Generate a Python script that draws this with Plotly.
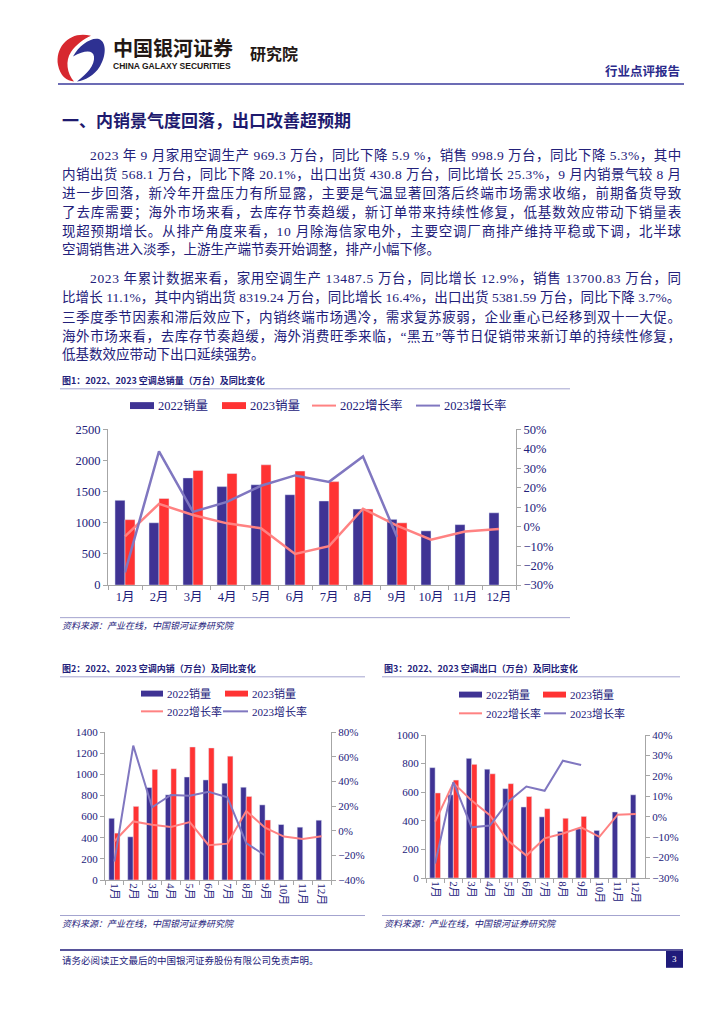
import plotly.graph_objects as go

W, H = 724, 1024
def X(px): return px / W
def Y(py): return 1 - py / H

# ---------------- data ----------------
months = ["1月", "2月", "3月", "4月", "5月", "6月", "7月", "8月", "9月", "10月", "11月", "12月"]

# 图1 total sales (万台) and YoY (%)
total_2022 = [1360, 1000, 1720, 1580, 1610, 1450, 1350, 1220, 1055, 870, 970, 1160]
total_2023 = [1050, 1390, 1840, 1790, 1930, 1830, 1660, 1220, 999]
total_g2022 = [-5.0, 11.7, 6.0, 1.7, -0.8, -14.0, -10.0, 9.2, 0.5, -6.7, -2.5, -1.2]
total_g2023 = [-23.5, 38.7, 7.6, 12.7, 21.0, 26.3, 23.0, 36.0, -5.3]

# 图2 domestic sales
dom_2022 = [584, 409, 875, 806, 975, 947, 916, 878, 711, 525, 500, 566]
dom_2023 = [444, 697, 1047, 1053, 1259, 1250, 1172, 791, 568]
dom_g2022 = [-8.6, 7.5, 4.8, 3.0, 7.0, -11.8, -10.5, 16.0, 2.4, -4.8, -6.7, -4.6]
dom_g2023 = [-25.0, 69.0, 19.0, 29.0, 28.4, 31.6, 27.0, -10.0, -20.1]

# 图3 exports
exp_2022 = [772, 582, 837, 761, 625, 497, 428, 326, 344, 333, 462, 582]
exp_2023 = [595, 685, 795, 729, 660, 570, 485, 418, 431]
exp_g2022 = [-2.4, 16.6, 7.9, 0.8, -11.8, -19.0, -10.6, -8.2, -5.2, -9.8, 1.0, 1.3]
exp_g2023 = [-22.9, 16.9, -5.2, -4.3, 7.4, 14.8, 12.7, 27.4, 25.3]

legend_names = ["2022销量", "2023销量", "2022增长率", "2023增长率"]

header_cn = "中国银河证券"
header_en = "CHINA GALAXY SECURITIES"
header_inst = "研究院"
header_type = "行业点评报告"
heading = "一、内销景气度回落，出口改善超预期"
para1 = [
    "2023 年 9 月家用空调生产 969.3 万台，同比下降 5.9 %，销售 998.9 万台，同比下降 5.3%，其中",
    "内销出货 568.1 万台，同比下降 20.1%，出口出货 430.8 万台，同比增长 25.3%，9 月内销景气较 8 月",
    "进一步回落，新冷年开盘压力有所显露，主要是气温显著回落后终端市场需求收缩，前期备货导致",
    "了去库需要；海外市场来看，去库存节奏趋缓，新订单带来持续性修复，低基数效应带动下销量表",
    "现超预期增长。从排产角度来看，10 月除海信家电外，主要空调厂商排产维持平稳或下调，北半球",
    "空调销售进入淡季，上游生产端节奏开始调整，排产小幅下修。",
]
para2 = [
    "2023 年累计数据来看，家用空调生产 13487.5 万台，同比增长 12.9%，销售 13700.83 万台，同",
    "比增长 11.1%，其中内销出货 8319.24 万台，同比增长 16.4%，出口出货 5381.59 万台，同比下降 3.7%。",
    "三季度季节因素和滞后效应下，内销终端市场遇冷，需求复苏疲弱，企业重心已经移到双十一大促。",
    "海外市场来看，去库存节奏趋缓，海外消费旺季来临，“黑五”等节日促销带来新订单的持续性修复，",
    "低基数效应带动下出口延续强势。",
]
title1 = "图1：2022、2023 空调总销量（万台）及同比变化"
title2 = "图2：2022、2023 空调内销（万台）及同比变化"
title3 = "图3：2022、2023 空调出口（万台）及同比变化"
source = "资料来源：产业在线，中国银河证券研究院"
footer = "请务必阅读正文最后的中国银河证券股份有限公司免责声明。"
page_no = "3"

# ---------------- styles ----------------
C22 = "#3F3394"
C23 = "#FF3333"
CL22 = "#FF8282"
CL23 = "#8077C0"
NAVY = "#22207A"
AX = "#A6A6A6"
SERIF = "Liberation Serif, Noto Sans CJK SC, serif"
SANS = "Noto Sans CJK SC, Liberation Sans, sans-serif"

fig = go.Figure()

def add_chart(xa, ya, ya2, cats, v22, v23, g22, g23, lw):
    fig.add_trace(go.Bar(x=cats, y=v22, marker_color=C22, xaxis=xa, yaxis=ya,
                         showlegend=False, offsetgroup="a"))
    fig.add_trace(go.Bar(x=cats[:len(v23)], y=v23, marker_color=C23, xaxis=xa, yaxis=ya,
                         showlegend=False, offsetgroup="b"))
    fig.add_trace(go.Scatter(x=cats, y=g22, mode="lines", line=dict(color=CL22, width=lw),
                             xaxis=xa, yaxis=ya2, showlegend=False))
    fig.add_trace(go.Scatter(x=cats[:len(g23)], y=g23, mode="lines", line=dict(color=CL23, width=lw),
                             xaxis=xa, yaxis=ya2, showlegend=False))

add_chart("x", "y", "y2", months, total_2022, total_2023, total_g2022, total_g2023, 2.5)
add_chart("x2", "y3", "y4", months, dom_2022, dom_2023, dom_g2022, dom_g2023, 2)
add_chart("x3", "y5", "y6", months, exp_2022, exp_2023, exp_g2022, exp_g2023, 2)

def xaxis(dom, anchor, fs, angle):
    return dict(domain=[X(dom[0]), X(dom[1])], anchor=anchor, type="category",
                range=[-0.5, 11.5], showline=True, linecolor=AX, linewidth=1,
                ticks="outside", tickson="boundaries", ticklen=4, tickcolor=AX,
                tickangle=angle, tickfont=dict(family=SERIF, size=fs, color=NAVY),
                showgrid=False, zeroline=False, fixedrange=True)

def yaxis(dom, anchor, rng, dt, fs, side="left", overlay=None, suffix=""):
    d = dict(anchor=anchor, range=rng, dtick=dt, showline=True, linecolor=AX, linewidth=1,
             ticks="outside", ticklen=4, tickcolor=AX, side=side, ticksuffix=suffix,
             tickfont=dict(family=SERIF, size=fs, color=NAVY),
             showgrid=False, zeroline=False, fixedrange=True)
    if overlay:
        d["overlaying"] = overlay
    else:
        d["domain"] = [Y(dom[0]), Y(dom[1])]
    return d

layout = dict(
    width=W, height=H, margin=dict(l=0, r=0, t=0, b=0),
    paper_bgcolor="white", plot_bgcolor="white",
    barmode="group", bargap=0.41, bargroupgap=0,
    xaxis=xaxis((100, 508), "y", 12.5, 0),
    yaxis=yaxis((578, 420), "x", [0, 2500], 500, 12.5),
    yaxis2=yaxis(None, "x", [-30, 50], 10, 12.5, side="right", overlay="y", suffix="%"),
    xaxis2=xaxis((97, 323), "y3", 11, 90),
    yaxis3=yaxis((877, 727), "x2", [0, 1400], 200, 11),
    yaxis4=yaxis(None, "x2", [-40, 80], 20, 11, side="right", overlay="y3", suffix="%"),
    xaxis3=xaxis((418, 637), "y5", 11, 90),
    yaxis5=yaxis((875, 730), "x3", [0, 1000], 200, 11),
    yaxis6=yaxis(None, "x3", [-30, 40], 10, 11, side="right", overlay="y5", suffix="%"),
)
fig.update_layout(**layout)

shapes = []
annots = []

def hline(x0, x1, y, color, w=1):
    shapes.append(dict(type="line", xref="paper", yref="paper", x0=X(x0), x1=X(x1),
                       y0=Y(y), y1=Y(y), line=dict(color=color, width=w)))

def rect(x0, x1, y0, y1, color):
    shapes.append(dict(type="rect", xref="paper", yref="paper", x0=X(x0), x1=X(x1),
                       y0=Y(y1), y1=Y(y0), fillcolor=color, line=dict(width=0)))

def txt(x, y, s, size, color=NAVY, family=SERIF, anchor="left"):
    annots.append(dict(xref="paper", yref="paper", x=X(x), y=Y(y), text=s, showarrow=False,
                       xanchor=anchor, yanchor="middle",
                       font=dict(size=size, color=color, family=family)))

def path(points_cmds, color):
    # logo outline in page pixels, shifted/scaled into place
    out = []
    for c in points_cmds:
        if isinstance(c, str):
            out.append(c)
        else:
            px = c[0] - 1
            py = 42 + (c[1] - 44) * 1.1
            out.append(f"{X(px):.5f},{Y(py):.5f}")
    shapes.append(dict(type="path", xref="paper", yref="paper", path=" ".join(out),
                       fillcolor=color, line=dict(width=0)))

# glyph-width estimate (em) for justifying body lines
def em_width(s):
    w = 0.0
    for c in s:
        if ord(c) >= 0x2E80 or c in "，。；：（）、":
            w += 1.0
        elif c.isdigit():
            w += 0.5
        elif c in " .":
            w += 0.25
        elif c == "%":
            w += 0.833
        elif c in "“”":
            w += 0.444
        else:
            w += 0.5
    return w

def body_line(x0, x1, y, s, fs, justify):
    if justify:
        nat = em_width(s) * fs
        ls = (x1 - x0 - nat) / max(len(s) - 1, 1)
        s = f'<span style="letter-spacing:{ls:.2f}px">{s}</span>'
    txt(x0, y, s, fs, NAVY, SERIF)

# ---------------- header ----------------
path(["M", (84, 25), "C", (64, 20), (48, 34), (51, 52), "C", (53, 62), (60, 67), (67, 67),
      "C", (60, 60), (58, 48), (64, 40), "C", (69, 33), (77, 28), (84, 25), "Z"], "#D7282F")
path(["M", (66, 44), "C", (72, 34), (84, 26), (92, 28), "C", (100, 31), (99, 44), (93, 53),
      "C", (87, 62), (78, 66), (70, 67), "C", (80, 60), (88, 52), (87, 44),
      "C", (86, 38), (78, 38), (66, 44), "Z"], "#2E3192")
txt(103, 33, "<b>" + header_cn + "</b>", 20, "#231815", SANS)
txt(103, 52, "<b>" + header_en + "</b>", 8.5, "#231815", "Liberation Sans, Arial, sans-serif")
txt(240, 39, "<b>" + header_inst + "</b>", 16, "#231815", SANS)
txt(674, 56, "<b>" + header_type + "</b>", 12.5, "#2B2B8C", SANS, anchor="right")
hline(50, 676, 70, "#3B3B9C", 1.6)

# ---------------- body text ----------------
txt(52, 106, "<b>" + heading + "</b>", 17, "#1E1A6E", SANS)
FS = 13.5
ys1 = [142, 161, 180, 200, 219, 238]
for i, (s, yy) in enumerate(zip(para1, ys1)):
    body_line(80 if i == 0 else 52, 671, yy, s, FS, i < len(para1) - 1)
ys2 = [267, 286, 306, 325, 344]
for i, (s, yy) in enumerate(zip(para2, ys2)):
    body_line(80 if i == 0 else 52, 671, yy, s, FS, i < len(para2) - 1)

# ---------------- chart titles / sources ----------------
LAV = "#A3A3CF"
txt(52, 371, "<b>" + title1 + "</b>", 9, NAVY, SANS)
hline(52, 562, 379, LAV, 1)
hline(52, 562, 611, LAV, 1)
txt(52, 619, "<i>" + source + "</i>", 9, NAVY, SANS)

txt(52, 663, "<b>" + title2 + "</b>", 9, NAVY, SANS)
hline(52, 357, 671, LAV, 1)
hline(52, 357, 913, LAV, 1)
txt(52, 921, "<i>" + source + "</i>", 9, NAVY, SANS)

txt(374, 663, "<b>" + title3 + "</b>", 9, NAVY, SANS)
hline(374, 672, 671, LAV, 1)
hline(374, 672, 913, LAV, 1)
txt(374, 921, "<i>" + source + "</i>", 9, NAVY, SANS)

# ---------------- legends ----------------
def legend_item(kind, x0, x1, y, color, label, fs, h=7, lw=2):
    if kind == "bar":
        rect(x0, x1, y - h / 2, y + h / 2, color)
    else:
        hline(x0, x1, y, color, lw)
    txt(x1 + 2, y, label, fs, NAVY, SERIF)

legend_item("bar", 122, 146, 396, C22, legend_names[0], 12.5)
legend_item("bar", 214, 238, 396, C23, legend_names[1], 12.5)
legend_item("line", 304, 328, 396, CL22, legend_names[2], 12.5)
legend_item("line", 408, 432, 396, CL23, legend_names[3], 12.5)

legend_item("bar", 133, 155, 688, C22, legend_names[0], 11, h=6)
legend_item("bar", 217, 240, 688, C23, legend_names[1], 11, h=6)
legend_item("line", 133, 155, 706, CL22, legend_names[2], 11)
legend_item("line", 215, 240, 706, CL23, legend_names[3], 11)

legend_item("bar", 451, 474, 689, C22, legend_names[0], 11, h=6)
legend_item("bar", 535, 558, 689, C23, legend_names[1], 11, h=6)
legend_item("line", 451, 474, 708, CL22, legend_names[2], 11)
legend_item("line", 536, 558, 708, CL23, legend_names[3], 11)

# ---------------- footer ----------------
hline(52, 675, 948, "#1F1B7A", 1.6)
txt(52, 958, footer, 9.5, NAVY, SANS)
rect(658, 675, 949, 966, "#1F1B7A")
txt(666.5, 957.5, page_no, 9, "white", SERIF, anchor="center")

fig.update_layout(shapes=shapes, annotations=annots)
fig.write_html("out.html")
